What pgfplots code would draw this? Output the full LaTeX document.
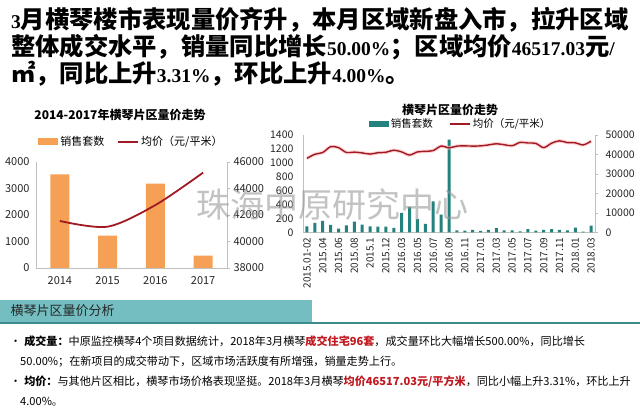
\documentclass[border=0pt]{standalone}
\usepackage{fontspec}
\setmainfont{Noto Sans CJK SC}
\newfontfamily\tms{Liberation Serif}
\newcommand\lt[1]{{\tms\fontsize{19.5}{27}\selectfont #1}}
\usepackage{pgfplots}
\usepackage{pgfplotstable}
\pgfplotsset{compat=1.18}

\definecolor{barorange}{HTML}{F5A055}
\definecolor{barteal}{HTML}{23827D}
\definecolor{linered}{HTML}{A01923}
\definecolor{axisgray}{HTML}{BFBFBF}
\definecolor{bandteal}{HTML}{74BEC1}
\definecolor{darkteal}{HTML}{3C8C8E}
\definecolor{hlred}{HTML}{C0181E}

% yearly sales and average price
\pgfplotstableread{
x sales price
0 3530 41550
1 1220 41120
2 3180 42750
3 470 45200
}\yeartab

% monthly sales and average price, 2015.01-02 .. 2018.03
\pgfplotstableread{
x sales price
0 85 38000
1 135 40100
2 165 41000
3 106 44000
4 52 43500
5 100 41000
6 155 41200
7 110 40800
8 85 40200
9 80 40900
10 80 41100
11 65 42200
12 280 41300
13 362 39700
14 190 41300
15 122 41600
16 446 42000
17 254 44300
18 1332 43400
19 29 44300
20 24 44400
21 34 44300
22 19 44400
23 34 44900
24 60 45500
25 26 45000
26 26 44500
27 15 46200
28 44 45900
29 24 45700
30 34 43500
31 46 45800
32 34 47000
33 26 46100
34 66 46000
35 10 44900
36 96 46800
}\monthtab

\pgfplotsset{
  base/.style={
    scale only axis, anchor=south west,
    scaled y ticks=false,
    /pgf/number format/1000 sep={},
    /pgf/number format/assume math mode=true,
    axis line style={draw=axisgray, line width=0.6pt},
    tick style={draw=axisgray, line width=0.6pt},
  },
}

\begin{document}
\begin{tikzpicture}
\path[use as bounding box] (0,0) rectangle (640pt,-419pt);

% headline
\begin{scope}[every node/.style={anchor=base west, inner sep=0pt, font=\fontsize{24.3}{27}\selectfont\bfseries}]
\node at (11pt,-28.5pt) {\lt{3}月横琴楼市表现量价齐升，本月区域新盘入市，拉升区域};
\node at (11pt,-55.5pt) {整体成交水平，销量同比增长\lt{50.00\%}；区域均价\lt{46517.03}元\lt{/}};
\node at (11pt,-82.5pt) {㎡，同比上升\lt{3.31\%}，环比上升\lt{4.00\%}。};
\end{scope}

% ---- left chart: yearly ----
\node[font=\fontsize{12}{14}\selectfont\bfseries] at (120pt,-115pt) {2014-2017年横琴片区量价走势};
\begin{axis}[base,
  at={(36pt,-268pt)}, width=191pt, height=106pt,
  xmin=-0.5, xmax=3.5, ymin=0, ymax=4000,
  xtick={0,1,2,3}, xticklabels={2014,2015,2016,2017},
  ytick={0,1000,2000,3000,4000},
  axis x line*=bottom, axis y line*=left,
  major tick length=0pt,
  tick label style={font=\fontsize{11}{12}\selectfont, text=black!85},
  yticklabel style={xshift=-3pt}, xticklabel style={yshift=-5pt},
  legend style={at={(0.5,1.19)}, anchor=center, draw=none, fill=none,
    legend columns=2, font=\fontsize{11}{12}\selectfont,
    /tikz/every even column/.append style={column sep=11pt},
    inner sep=0pt},
]
\addplot[ybar, bar width=19pt, fill=barorange, draw=none,
  legend image code/.code={\fill[barorange] (0pt,-3.5pt) rectangle (20pt,3.5pt);}]
  table[x=x,y=sales]{\yeartab};
\addlegendentry{销售套数}
\addlegendimage{legend image code/.code={\draw[linered, line width=1.8pt] (0pt,0pt) -- (20pt,0pt);}}
\addlegendentry{均价（元/平米）}
\end{axis}
\begin{axis}[base,
  at={(36pt,-268pt)}, width=191pt, height=106pt,
  xmin=-0.5, xmax=3.5, ymin=38000, ymax=46000,
  ytick={38000,40000,42000,44000,46000},
  axis y line*=right, axis x line=none,
  major tick length=3pt, tick align=outside,
  tick label style={font=\fontsize{11}{12}\selectfont, text=black!85},
]
\addplot[linered, line width=1.8pt, smooth] table[x=x,y=price]{\yeartab};
\end{axis}

% ---- right chart: monthly ----
\node[font=\fontsize{12}{14}\selectfont\bfseries] at (450pt,-110pt) {横琴片区量价走势};
\begin{axis}[base,
  at={(303pt,-232.3pt)}, width=292pt, height=97.3pt,
  xmin=-0.5, xmax=36.5, ymin=0, ymax=1400,
  xtick={0,2,...,36},
  xticklabels={2015.01-02,2015.04,2015.06,2015.08,2015.1,2015.12,2016.03,2016.05,2016.07,2016.09,2016.11,2017.01,2017.03,2017.05,2017.07,2017.09,2017.11,2018.01,2018.03},
  ytick={0,200,...,1400},
  axis x line*=bottom, axis y line*=left,
  major tick length=0pt,
  tick label style={font=\fontsize{10.5}{12}\selectfont, text=black!85},
  yticklabel style={xshift=-6pt},
  xticklabel style={rotate=90, anchor=east, xshift=-2pt, font=\fontsize{10}{12}\selectfont},
  legend style={at={(0.54,1.113)}, anchor=center, draw=none, fill=none,
    legend columns=2, font=\fontsize{10.5}{12}\selectfont,
    /tikz/every even column/.append style={column sep=14pt},
    inner sep=0pt},
]
\addplot[ybar, bar width=3pt, fill=barteal, draw=none,
  legend image code/.code={\fill[barteal] (0pt,-3pt) rectangle (20pt,3pt);}]
  table[x=x,y=sales]{\monthtab};
\addlegendentry{销售套数}
\addlegendimage{legend image code/.code={\draw[linered, line width=1.8pt] (0pt,0pt) -- (20pt,0pt);}}
\addlegendentry{均价（元/平米）}
\end{axis}
\begin{axis}[base,
  at={(303pt,-232.3pt)}, width=292pt, height=97.3pt,
  xmin=-0.5, xmax=36.5, ymin=0, ymax=50000,
  ytick={0,10000,...,50000},
  axis y line*=right, axis x line=none,
  major tick length=3pt, tick align=outside,
  tick label style={font=\fontsize{10.5}{12}\selectfont, text=black!85},
  yticklabel style={xshift=4pt},
]
\addplot[red!25, line width=3.5pt, smooth, opacity=0.7] table[x=x,y=price]{\monthtab};
\addplot[linered, line width=1.4pt, smooth] table[x=x,y=price]{\monthtab};
\end{axis}

% watermark
\node[font=\fontsize{34}{36}\selectfont, text=black!40, opacity=0.6] at (332pt,-205pt) {珠海中原研究中心};

% ---- analysis box ----
\fill[bandteal] (0pt,-300pt) rectangle (312pt,-322pt);
\fill[darkteal] (0pt,-322pt) rectangle (640pt,-324.5pt);
\node[anchor=west, font=\fontsize{13}{14}\selectfont, text=black!85] at (7pt,-311pt) {横琴片区量价分析};

\begin{scope}[every node/.style={anchor=base west, inner sep=0pt, font=\fontsize{11.1}{13}\selectfont}]
\node at (10pt,-346pt) {•\hspace{3pt}\textbf{成交量：}中原监控横琴4个项目数据统计，2018年3月横琴\textbf{\color{hlred}成交住宅96套}，成交量环比大幅增长500.00\%，同比增长};
\node at (20pt,-366pt) {50.00\%；在新项目的成交带动下，区域市场活跃度有所增强，销量走势上行。};
\node at (10pt,-386pt) {•\hspace{3pt}\textbf{均价：}与其他片区相比，横琴市场价格表现坚挺。2018年3月横琴\textbf{\color{hlred}均价46517.03元/平方米}，同比小幅上升3.31\%，环比上升};
\node at (20pt,-406pt) {4.00\%。};
\end{scope}
\end{tikzpicture}
\end{document}
